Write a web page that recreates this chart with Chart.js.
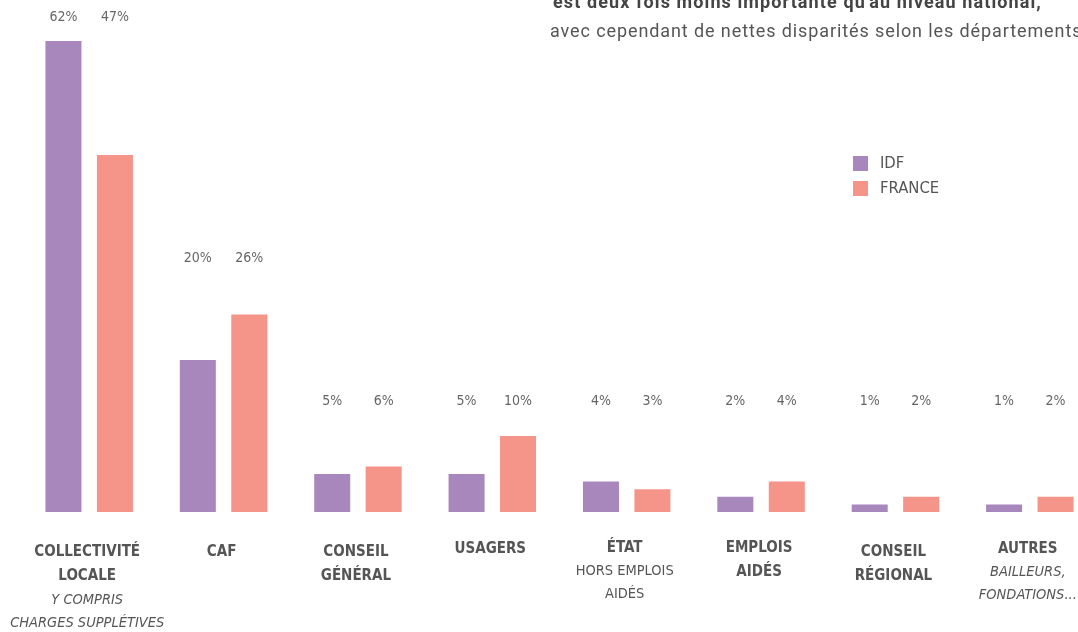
<!DOCTYPE html>
<html lang="fr">
<head>
<meta charset="utf-8">
<script src="https://cdn.jsdelivr.net/npm/chart.js@4.4.0/dist/chart.umd.min.js"></script>
<style>
  html, body { margin: 0; padding: 0; background: #fff; overflow: hidden; }
  #wrap { position: relative; width: 1100px; height: 632px; }
  #factory { position: absolute; left: 0; top: 0; }
  .intro { position: absolute; font-family: Roboto, sans-serif; font-size: 18px; line-height: 21px; letter-spacing: 0.9px; color: #555; white-space: nowrap; }
  .intro.bold { font-weight: bold; color: #444; letter-spacing: 1.1px; }
</style>
</head>
<body>
<div id="wrap">
  <canvas id="factory" width="1100" height="632"></canvas>
  <div class="intro bold" style="left:553px; top:-9px;">est deux fois moins importante qu'au niveau national,</div>
  <div class="intro" style="left:550px; top:20px;">avec cependant de nettes disparités selon les départements</div>
</div>
<script>
const categories = [
  ["COLLECTIVITÉ", "LOCALE"],
  ["CAF"],
  ["CONSEIL", "GÉNÉRAL"],
  ["USAGERS"],
  ["ÉTAT"],
  ["EMPLOIS", "AIDÉS"],
  ["CONSEIL", "RÉGIONAL"],
  ["AUTRES"]
];
const subLabels = [
  ["Y COMPRIS", "CHARGES SUPPLÉTIVES"],
  [],
  [],
  [],
  ["HORS EMPLOIS", "AIDÉS"],
  [],
  [],
  ["BAILLEURS,", "FONDATIONS..."]
];
const seriesNames = ["IDF", "FRANCE"];
const idfValues = [62, 20, 5, 5, 4, 2, 1, 1];
const franceValues = [47, 26, 6, 10, 3, 4, 2, 2];

const colorIdf = "#a887bd";
const colorFrance = "#f59489";
const textColor = "#555";

// labels de valeurs (rangées fixes comme dans le visuel d'origine)
const valueLabels = {
  id: "valueLabels",
  afterDatasetsDraw(chart, args, opts) {
    const ctx = chart.ctx;
    const y = chart.scales.y;
    ctx.save();
    ctx.font = "14px 'DejaVu Sans Condensed', sans-serif";
    ctx.fillStyle = "#666";
    ctx.textAlign = "center";
    ctx.textBaseline = "middle";
    chart.data.datasets.forEach(function (ds, di) {
      const meta = chart.getDatasetMeta(di);
      meta.data.forEach(function (bar, i) {
        ctx.fillText(ds.data[i] + "%", bar.x, y.getPixelForValue(opts.levels[i]));
      });
    });
    ctx.restore();
  }
};

// libellés des catégories sous l'axe
const categoryLabels = {
  id: "categoryLabels",
  afterDraw(chart, args, opts) {
    const ctx = chart.ctx;
    const x = chart.scales.x;
    const top = chart.chartArea.bottom + 38;
    ctx.save();
    ctx.fillStyle = textColor;
    ctx.textAlign = "center";
    ctx.textBaseline = "middle";
    categories.forEach(function (lines, i) {
      const cx = x.getPixelForValue(i) - 2;
      let yy = top + opts.shift[i];
      ctx.font = "bold 15px 'DejaVu Sans Condensed', sans-serif";
      lines.forEach(function (l) {
        ctx.fillText(l, cx, yy);
        yy += 24.5;
      });
      yy -= 1;
      ctx.font = (opts.italic[i] ? "oblique " : "") + "14.5px 'DejaVu Sans Condensed', sans-serif";
      subLabels[i].forEach(function (l) {
        ctx.fillText(l, cx, yy);
        yy += 23;
      });
    });
    ctx.restore();
  }
};

// légende dans la zone du graphique
const boxLegend = {
  id: "boxLegend",
  afterDraw(chart, args, opts) {
    const ctx = chart.ctx;
    ctx.save();
    ctx.font = "16.5px 'DejaVu Sans Condensed', sans-serif";
    ctx.textBaseline = "middle";
    chart.data.datasets.forEach(function (ds, i) {
      const yy = opts.top + i * 25;
      ctx.fillStyle = ds.backgroundColor;
      ctx.fillRect(opts.left, yy, 15, 15);
      ctx.fillStyle = textColor;
      ctx.fillText(ds.label, opts.left + 27, yy + 8);
    });
    ctx.restore();
  }
};

new Chart(document.getElementById("factory"), {
  type: "bar",
  data: {
    labels: categories.map(function (c) { return c.join(" "); }),
    datasets: [
      { label: seriesNames[0], data: idfValues, backgroundColor: colorIdf },
      { label: seriesNames[1], data: franceValues, backgroundColor: colorFrance }
    ]
  },
  options: {
    responsive: false,
    animation: false,
    layout: { padding: { left: 22, right: 3, top: 0, bottom: 120 } },
    datasets: { bar: { categoryPercentage: 0.766, barPercentage: 0.7 } },
    scales: {
      x: { display: false },
      y: { display: false, min: 0, max: 67.4 }
    },
    plugins: {
      legend: { display: false },
      tooltip: { enabled: false },
      valueLabels: { levels: [65.1, 33.4, 14.5, 14.5, 14.5, 14.5, 14.5, 14.5] },
      categoryLabels: {
        shift: [2, 2, 2, -1, -2, -2, 2, -1],
        italic: [true, false, false, false, false, false, false, true]
      },
      boxLegend: { left: 853, top: 156 }
    }
  },
  plugins: [valueLabels, categoryLabels, boxLegend]
});
</script>
</body>
</html>
